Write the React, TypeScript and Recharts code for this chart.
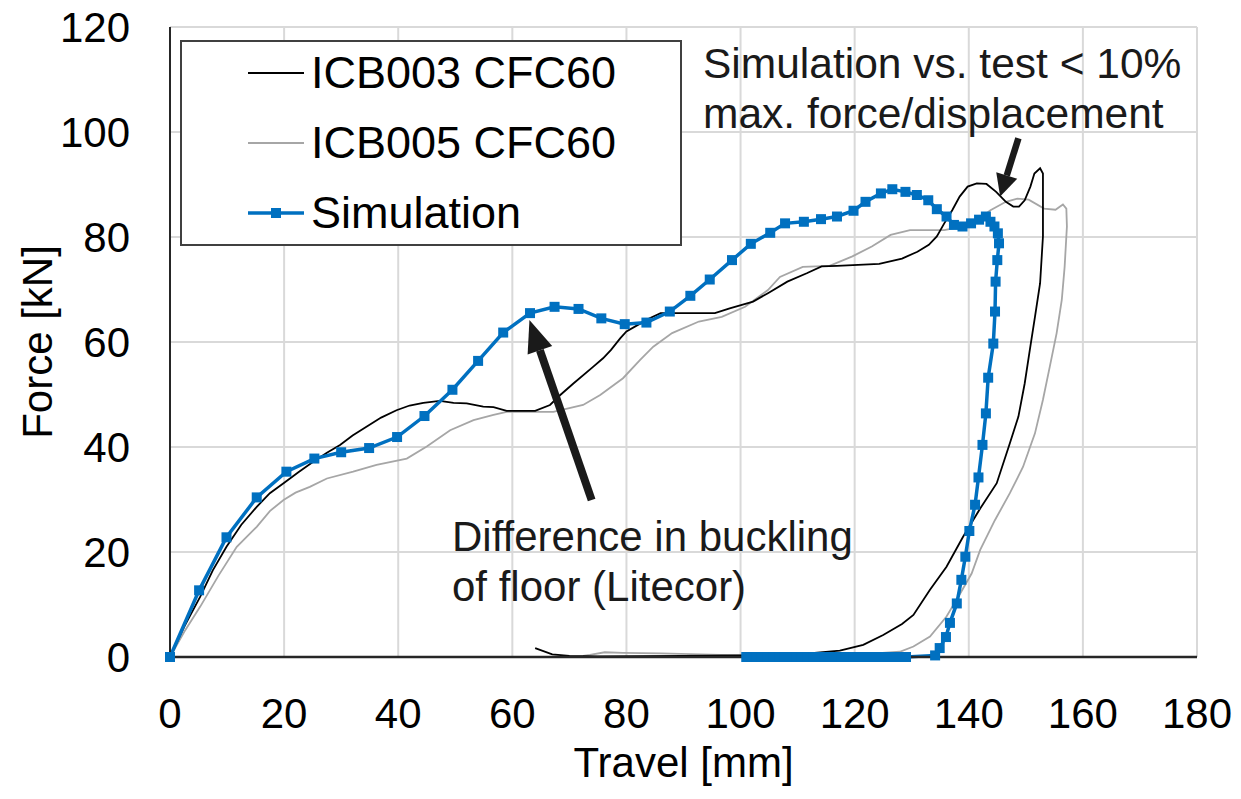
import React from "react";
import { LineChart, Line, XAxis, YAxis, CartesianGrid, Legend, ReferenceLine } from "recharts";

// test curve ICB003 (CFC60 filtered)
const icb003X = [0, 2.5, 5.3, 7.5, 9.9, 12.5, 15.2, 17.5, 19.9, 22.5, 25.1, 27.5, 29.8, 32.0, 34.5, 37.0, 39.7, 42.0, 44.4, 47.3, 49.7, 52.0, 54.9, 56.7, 59.0, 64.0, 66.6, 68.4, 70.7, 74.2, 75.9, 77.3, 78.9, 80.0, 82.4, 83.4, 86.0, 95.5, 98.1, 102.2, 104.8, 108.2, 111.6, 114.2, 116.9, 124.3, 128.3, 131.0, 133.0, 134.4, 135.7, 137.1, 138.4, 139.8, 141.4, 143.1, 144.8, 146.5, 147.8, 148.8, 149.8, 150.8, 151.5, 152.5, 153.0, 153.0, 152.5, 151.6, 150.7, 149.8, 148.7, 147.2, 144.9, 142.0, 139.0, 136.1, 133.2, 130.3, 128.3, 125.0, 121.5, 117.4, 110, 100, 90, 75, 70, 67, 64];
const icb003Y = [0, 5.8, 11.5, 16.5, 21.0, 25.2, 28.6, 31.2, 33.1, 35.2, 37.2, 38.9, 40.4, 42.2, 43.9, 45.6, 47.0, 47.9, 48.4, 48.8, 48.4, 48.3, 47.7, 47.6, 46.9, 46.9, 48.0, 49.9, 52.1, 55.3, 56.9, 58.5, 60.7, 62.0, 63.5, 64.2, 65.5, 65.5, 66.4, 67.7, 69.3, 71.5, 73.1, 74.4, 74.5, 74.9, 75.9, 77.2, 78.5, 80.1, 82.6, 85.1, 87.7, 89.6, 90.2, 90.1, 88.6, 86.7, 85.8, 85.8, 87.0, 89.6, 92.1, 93.1, 92.1, 80.1, 71.2, 64.8, 58.5, 52.1, 45.8, 40.7, 33.1, 28.3, 22.9, 17.2, 12.8, 8.0, 6.3, 4.2, 2.3, 1.2, 0.5, 0.3, 0.2, 0.1, 0.2, 0.5, 1.7];

// test curve ICB005 (CFC60 filtered)
const icb005X = [0, 2.5, 5.3, 8.5, 11.7, 15.2, 17.5, 19.9, 22.0, 24.5, 27.5, 32.1, 36.2, 41.5, 45.0, 49.1, 53.2, 56.7, 59.0, 67.2, 72.4, 75.4, 79.4, 82.4, 84.7, 88.0, 92.7, 96.7, 100.8, 104.8, 106.9, 110.9, 115.6, 119.6, 123.0, 126.3, 129.7, 135.7, 140.4, 143.8, 146.5, 148.5, 150.5, 153.2, 155.2, 156.5, 157.1, 157.2, 157.1, 156.8, 156.3, 155.4, 154.2, 153.0, 151.6, 149.5, 147.2, 144.6, 142.0, 140.5, 138.5, 136.1, 133.2, 130.3, 127.9, 120, 100, 86, 79.4, 76.2, 73.6, 72.4];
const icb005Y = [0, 4.8, 9.6, 15.5, 21.0, 24.8, 27.8, 29.9, 31.3, 32.4, 34.0, 35.3, 36.6, 37.8, 40.1, 43.2, 45.1, 46.1, 46.7, 46.7, 48.0, 49.9, 53.1, 56.6, 59.1, 61.7, 63.9, 64.8, 66.7, 69.9, 72.4, 74.3, 74.5, 76.3, 78.2, 80.4, 81.3, 81.3, 82.3, 85.1, 86.7, 87.3, 87.1, 85.4, 85.2, 86.2, 85.4, 82.0, 80.1, 74.3, 68.0, 61.7, 55.3, 49.0, 42.6, 36.2, 31.2, 26.1, 20.4, 15.9, 12.1, 7.7, 3.9, 2.0, 1.0, 0.4, 0.3, 0.7, 0.8, 0.9, 0.4, 0.2];

// simulation (markers)
const simX = [0, 5.1, 9.9, 15.2, 20.4, 25.3, 30.0, 34.9, 39.8, 44.6, 49.5, 54.0, 58.4, 63.1, 67.4, 71.6, 75.6, 79.7, 83.5, 87.6, 91.2, 94.6, 98.5, 101.8, 105.2, 107.8, 111.1, 114.1, 116.9, 119.8, 121.9, 124.6, 126.6, 128.9, 130.9, 132.9, 134.4, 136.1, 137.4, 138.9, 140.4, 141.8, 143.0, 143.8, 144.5, 145.1, 145.3, 145.0, 144.7, 144.6, 144.3, 143.4, 143.0, 142.4, 141.7, 141.1, 140.1, 139.4, 138.7, 137.9, 136.7, 136.0, 134.9, 134.1, 129, 128, 127, 126, 125, 124, 123, 122, 121, 120, 119, 118, 117, 116, 115, 114, 113, 112, 111, 110, 109, 108, 107, 106, 105, 104, 103, 102, 101];
const simY = [0, 12.7, 22.8, 30.4, 35.3, 37.8, 39.0, 39.8, 41.9, 45.9, 50.9, 56.4, 61.8, 65.5, 66.7, 66.3, 64.5, 63.4, 63.7, 65.8, 68.8, 71.9, 75.6, 78.7, 80.8, 82.6, 82.9, 83.4, 83.9, 85.0, 86.7, 88.3, 89.1, 88.6, 88.0, 87.0, 85.3, 83.9, 82.3, 82.0, 82.6, 83.3, 83.9, 82.9, 82.0, 80.7, 78.8, 75.6, 71.5, 65.8, 59.7, 53.2, 46.4, 40.4, 34.2, 29.0, 24.0, 19.1, 14.7, 10.2, 6.5, 3.8, 1.7, 0.3, 0, 0, 0, 0, 0, 0, 0, 0, 0, 0, 0, 0, 0, 0, 0, 0, 0, 0, 0, 0, 0, 0, 0, 0, 0, 0, 0, 0, 0];

const xTicks = [0, 20, 40, 60, 80, 100, 120, 140, 160, 180];
const yTicks = [0, 20, 40, 60, 80, 100, 120];

// annotation arrows: [tailX, tailY, tipX, tipY]
const arrowMax = [148.7, 98.8, 145.5, 87.7];
const arrowBuckling = [73.9, 29.9, 63.0, 64.2];

const zip = (xs: number[], ys: number[]) => xs.map((x, i) => ({ x, y: ys[i] }));
const icb003 = zip(icb003X, icb003Y);
const icb005 = zip(icb005X, icb005Y);
const sim = zip(simX, simY);

const FONT = "'Liberation Sans', Arial, sans-serif";
const BLUE = "#0070C0";

const series = [
  { name: "ICB003 CFC60", color: "#000000", marker: false },
  { name: "ICB005 CFC60", color: "#A6A6A6", marker: false },
  { name: "Simulation", color: BLUE, marker: true },
];

function SquareDot(props: any) {
  const { cx, cy, index } = props;
  if (cx == null || cy == null) return null;
  return <rect key={index} x={cx - 5} y={cy - 5} width={10} height={10} fill={BLUE} />;
}

function arrowShape(shaft: number, headW: number, headL: number) {
  return (p: any) => {
    const { x1, y1, x2, y2 } = p;
    const dx = x2 - x1;
    const dy = y2 - y1;
    const len = Math.sqrt(dx * dx + dy * dy) || 1;
    const ux = dx / len;
    const uy = dy / len;
    const bx = x2 - ux * headL;
    const by = y2 - uy * headL;
    const px = -uy;
    const py = ux;
    return (
      <g>
        <line x1={x1} y1={y1} x2={bx} y2={by} stroke="#1a1a1a" strokeWidth={shaft} />
        <polygon
          points={`${x2},${y2} ${bx + px * headW / 2},${by + py * headW / 2} ${bx - px * headW / 2},${by - py * headW / 2}`}
          fill="#1a1a1a"
        />
      </g>
    );
  };
}

function LegendBox() {
  return (
    <div
      style={{
        width: 502,
        height: 206,
        border: "2px solid #404040",
        background: "#fff",
        fontFamily: FONT,
        fontSize: 45,
        color: "#000",
        boxSizing: "border-box",
      }}
    >
      {series.map((s, i) => (
        <div key={s.name} style={{ position: "absolute", left: 0, top: 33 + i * 70 - 26, height: 52, display: "flex", alignItems: "center" }}>
          <svg width={131} height={52}>
            <line x1={68} x2={124} y1={26} y2={26} stroke={s.color} strokeWidth={s.marker ? 3.5 : 2} />
            {s.marker && <rect x={91} y={21} width={10} height={10} fill={BLUE} />}
          </svg>
          <span style={{ lineHeight: "52px", whiteSpace: "nowrap" }}>{s.name}</span>
        </div>
      ))}
    </div>
  );
}

export default function App() {
  return (
    <div style={{ position: "absolute", left: 0, top: 0, width: 1241, height: 799, background: "#fff" }}>
      <LineChart width={1241} height={799} margin={{ top: 27, right: 44, bottom: 0, left: 0 }}>
        <CartesianGrid stroke="#D9D9D9" strokeWidth={2} />
        <XAxis
          type="number"
          dataKey="x"
          domain={[0, 180]}
          ticks={xTicks}
          height={142}
          tickLine={false}
          tickSize={6}
          tickMargin={35}
          axisLine={{ stroke: "#262626", strokeWidth: 2.5 }}
          tick={{ fontSize: 42, fill: "#000", fontFamily: FONT }}
          label={{ value: "Travel [mm]", position: "insideBottom", offset: 22, fontSize: 42, fill: "#000", fontFamily: FONT }}
        />
        <YAxis
          type="number"
          dataKey="y"
          domain={[0, 120]}
          ticks={yTicks}
          width={170}
          tickLine={false}
          tickSize={6}
          tickMargin={34}
          axisLine={{ stroke: "#262626", strokeWidth: 2 }}
          tick={{ fontSize: 42, fill: "#000", fontFamily: FONT }}
          label={{
            content: (props: any) => {
              const vb = props.viewBox || { x: 0, y: 27, width: 170, height: 630 };
              const cx = vb.x + 37;
              const cy = vb.y + vb.height / 2;
              return (
                <text
                  x={cx}
                  y={cy}
                  transform={`rotate(-90 ${cx} ${cy})`}
                  textAnchor="middle"
                  dominantBaseline="central"
                  fontSize={42}
                  fontFamily={FONT}
                  fill="#000"
                >
                  Force [kN]
                </text>
              );
            },
          }}
        />
        <Line
          data={icb005}
          dataKey="y"
          name="ICB005 CFC60"
          type="linear"
          stroke="#A6A6A6"
          strokeWidth={1.8}
          dot={false}
          activeDot={false}
          isAnimationActive={false}
        />
        <Line
          data={icb003}
          dataKey="y"
          name="ICB003 CFC60"
          type="linear"
          stroke="#000000"
          strokeWidth={1.8}
          dot={false}
          activeDot={false}
          isAnimationActive={false}
        />
        <Line
          data={sim}
          dataKey="y"
          name="Simulation"
          type="linear"
          stroke={BLUE}
          strokeWidth={3.5}
          dot={<SquareDot />}
          activeDot={false}
          isAnimationActive={false}
        />
        <ReferenceLine
          segment={[{ x: arrowMax[0], y: arrowMax[1] }, { x: arrowMax[2], y: arrowMax[3] }]}
          shape={arrowShape(6.5, 22, 22)}
          ifOverflow="visible"
        />
        <ReferenceLine
          segment={[{ x: arrowBuckling[0], y: arrowBuckling[1] }, { x: arrowBuckling[2], y: arrowBuckling[3] }]}
          shape={arrowShape(8, 26, 32)}
          ifOverflow="visible"
        />
        <Legend
          layout="vertical"
          align="center"
          verticalAlign="middle"
          content={() => <LegendBox />}
          wrapperStyle={{ position: "absolute", left: 180, top: 40, width: 502, height: 206 }}
        />
      </LineChart>
      <div style={{ position: "absolute", left: 703, top: 39, fontFamily: FONT, fontSize: 42.5, lineHeight: "50px", color: "#1a1a1a", whiteSpace: "pre" }}>
        {"Simulation vs. test < 10%\nmax. force/displacement"}
      </div>
      <div style={{ position: "absolute", left: 452, top: 512, fontFamily: FONT, fontSize: 42, lineHeight: "50px", color: "#1a1a1a", whiteSpace: "pre" }}>
        {"Difference in buckling\nof floor (Litecor)"}
      </div>
    </div>
  );
}
